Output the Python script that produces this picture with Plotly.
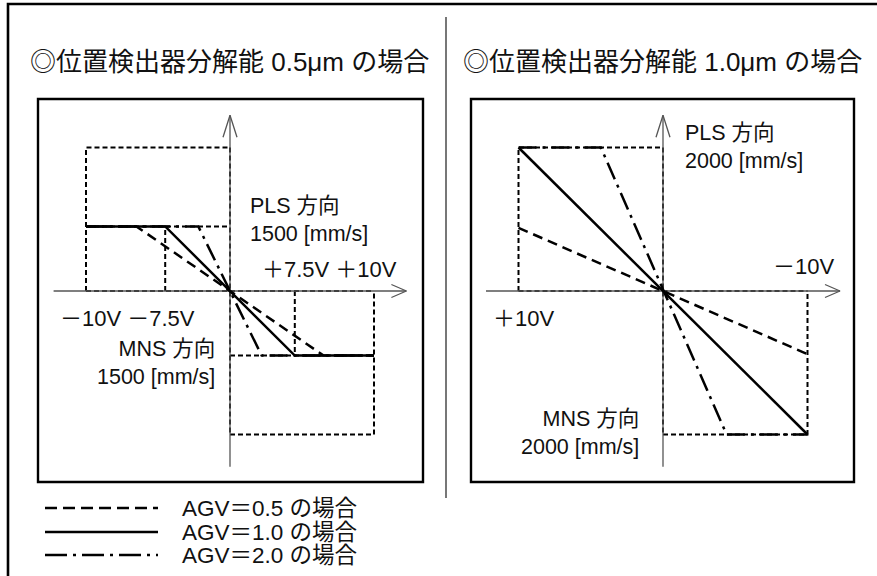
import plotly.graph_objects as go

W, H = 877, 576
FONT = "Liberation Sans, Arial, Noto Sans CJK JP, sans-serif"

# ---- data (schematic units: full scale = 10) ----
titles = ["◎位置検出器分解能 0.5μm の場合", "◎位置検出器分解能 1.0μm の場合"]
legend_labels = ["AGV＝0.5 の場合", "AGV＝1.0 の場合", "AGV＝2.0 の場合"]

left_agv05_x = [-10, -6.5, 6.5, 10]
left_agv05_y = [4.5, 4.5, -4.5, -4.5]
left_agv10_x = [-10, -4.5, 4.5, 10]
left_agv10_y = [4.5, 4.5, -4.5, -4.5]
left_agv20_x = [-10, -2.2, 2.2, 10]
left_agv20_y = [4.5, 4.5, -4.5, -4.5]

right_agv05_x = [-10, 10]
right_agv05_y = [4.4, -4.4]
right_agv10_x = [-10, 10]
right_agv10_y = [10, -10]
right_agv20_x = [-10, -4.3, 4.4, 10]
right_agv20_y = [10, 10, -10, -10]

full_scale = 10
left_level = 4.5      # 1500 mm/s
right_level = 10      # 2000 mm/s
axis_extent = 12.25

left_labels = {"pls": "PLS 方向<br>1500 [mm/s]", "mns": "MNS 方向<br>1500 [mm/s]",
               "pos": "＋7.5V ＋10V", "neg": "－10V －7.5V"}
right_labels = {"pls": "PLS 方向<br>2000 [mm/s]", "mns": "MNS 方向<br>2000 [mm/s]",
                "pos": "－10V", "neg": "＋10V"}


def px(x):
    return x / W


def py(y):
    return 1 - y / H


fig = go.Figure()

# panel geometry (pixels)
panels = [
    dict(xa="x", ya="y", box=(38, 99, 423, 482), cx=230, sx=14.4),
    dict(xa="x2", ya="y2", box=(471, 99, 854, 482), cx=663, sx=14.45),
]
cy, sy = 291, 14.35

for i, p in enumerate(panels):
    x0, y0, x1, y1 = p["box"]
    key = "" if i == 0 else "2"
    fig.update_layout(**{
        f"xaxis{key}": dict(domain=[px(x0), px(x1)],
                            range=[(x0 - p["cx"]) / p["sx"], (x1 - p["cx"]) / p["sx"]],
                            visible=False, fixedrange=True),
        f"yaxis{key}": dict(domain=[py(y1), py(y0)],
                            range=[(cy - y1) / sy, (cy - y0) / sy],
                            visible=False, fixedrange=True,
                            anchor=f"x{key}"),
    })
fig.update_layout(xaxis2=dict(anchor="y2"))


def add_line(x, y, xa, ya, width, dash, color="black"):
    fig.add_trace(go.Scatter(x=x, y=y, xaxis=xa, yaxis=ya, mode="lines",
                             line=dict(color=color, width=width, dash=dash),
                             hoverinfo="skip", showlegend=False))


def ref_boxes(xa, ya, level, inner):
    F = full_scale
    xs = [-F, -F, 0, None, 0, F, F, None, -F, F, None, 0, 0]
    ys = [0, F, F, None, -F, -F, 0, None, 0, 0, None, F, -F]
    if inner:
        xs += [None, -F, 0, None, -level, -level, None, 0, F, None, level, level]
        ys += [None, level, level, None, 0, level, None, -level, -level, None, 0, -level]
    add_line(xs, ys, xa, ya, 2, "5px,3px")


def axes(xa, ya, sxp, syp):
    E = axis_extent
    gray = "#555555"
    add_line([-E, E], [0, 0], xa, ya, 1.3, "solid", gray)
    add_line([0, 0], [-E, E], xa, ya, 1.3, "solid", gray)
    # arrowheads
    add_line([E - 15 / sxp, E, E - 15 / sxp], [6.5 / syp, 0, -6.5 / syp], xa, ya, 1.3, "solid", gray)
    add_line([-7 / sxp, 0, 7 / sxp], [E - 22 / syp, E, E - 22 / syp], xa, ya, 1.3, "solid", gray)


DASH = "10px,6px"
DASHDOT = "18px,6px,3px,6px"

# left panel
ref_boxes("x", "y", left_level, True)
axes("x", "y", 14.4, sy)
add_line(left_agv05_x, left_agv05_y, "x", "y", 2.5, DASH)
add_line(left_agv20_x, left_agv20_y, "x", "y", 2.5, DASHDOT)
add_line(left_agv10_x, left_agv10_y, "x", "y", 2.5, "solid")

# right panel
ref_boxes("x2", "y2", right_level, False)
axes("x2", "y2", 14.45, sy)
add_line(right_agv05_x, right_agv05_y, "x2", "y2", 2.5, DASH)
add_line(right_agv20_x, right_agv20_y, "x2", "y2", 2.5, DASHDOT)
add_line(right_agv10_x, right_agv10_y, "x2", "y2", 2.5, "solid")

shapes = []
# outer frame (cropped)
shapes.append(dict(type="rect", xref="paper", yref="paper", x0=px(8), x1=px(W + 20),
                   y0=py(H + 20), y1=py(4), line=dict(color="black", width=2.6)))
# divider
shapes.append(dict(type="line", xref="paper", yref="paper", x0=px(446), x1=px(446),
                   y0=py(17), y1=py(498), line=dict(color="#555555", width=1.6)))
# inner boxes
for p in panels:
    x0, y0, x1, y1 = p["box"]
    shapes.append(dict(type="rect", xref="paper", yref="paper", x0=px(x0), x1=px(x1),
                       y0=py(y1), y1=py(y0), line=dict(color="black", width=2.4)))
# legend samples
for yy, d in zip([508, 532, 555], ["12px,6px", "solid", "22px,6px,3px,6px"]):
    shapes.append(dict(type="line", xref="paper", yref="paper", x0=px(45), x1=px(158),
                       y0=py(yy), y1=py(yy), line=dict(color="black", width=2.5, dash=d)))
fig.update_layout(shapes=shapes)

ann = []


def text(t, x, y, size, xanchor="left", align="left"):
    ann.append(dict(text=t, x=px(x), y=py(y), xref="paper", yref="paper",
                    xanchor=xanchor, yanchor="middle", align=align, showarrow=False,
                    font=dict(family=FONT, size=size, color="#111111")))


text(titles[0], 229, 62, 26, "center", "center")
text(titles[1], 662, 62, 26, "center", "center")

text(left_labels["pls"], 248, 220, 21.5)
text(left_labels["pos"], 260, 269, 22)
text(left_labels["neg"], 58, 318, 22)
text(left_labels["mns"], 217, 363, 21.5, "right", "right")

text(right_labels["pls"], 683, 147, 21.5)
text(right_labels["pos"], 771, 266, 22)
text(right_labels["neg"], 491, 318, 22)
text(right_labels["mns"], 641, 433, 21.5, "right", "right")

for lbl, yy in zip(legend_labels, [508, 532, 555]):
    text(lbl, 180, yy, 22.5)

fig.update_layout(annotations=ann, width=W, height=H,
                  margin=dict(l=0, r=0, t=0, b=0),
                  paper_bgcolor="white", plot_bgcolor="rgba(0,0,0,0)",
                  showlegend=False, hovermode=False)

fig.write_html("out.html", config={"displayModeBar": False},
               post_script="document.body.style.margin='0px';document.body.style.overflow='hidden';")
